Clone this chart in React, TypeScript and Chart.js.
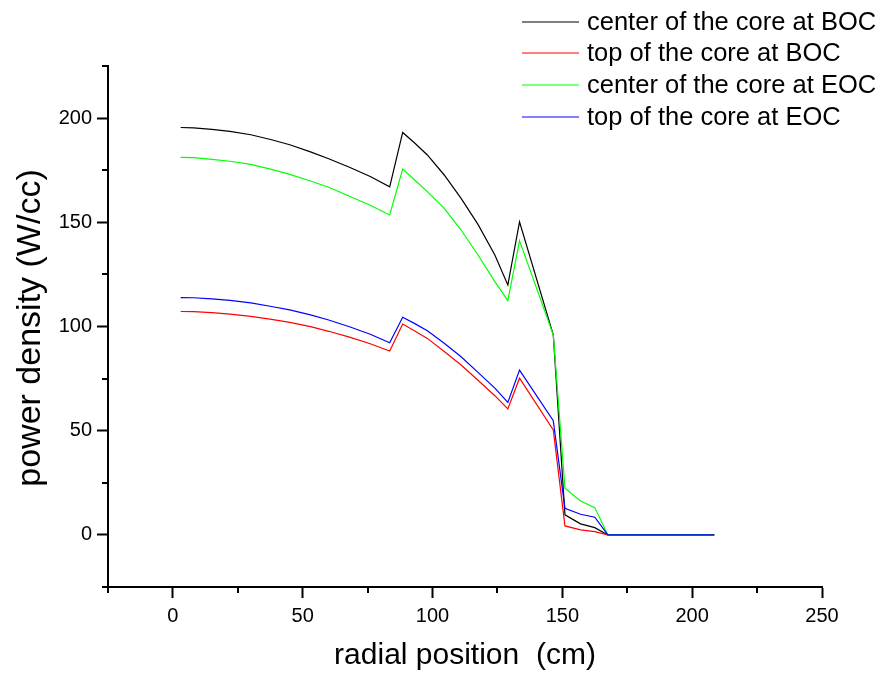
import React, { useEffect, useRef } from "react";
import { Chart, registerables } from "chart.js";

Chart.register(...registerables);

const radius = [3, 8, 15, 22, 30, 38, 45, 53, 60, 68, 76, 83.5, 88.5, 93, 98, 104.5, 111, 117.5, 124, 129, 133.5, 146.5, 151, 157, 162.5, 167.5, 208.5];

const centerBOC = [195.5, 195.3, 194.6, 193.6, 192, 189.6, 187.2, 183.8, 180.5, 176.4, 172, 167, 193.1, 188.2, 182.3, 172.7, 161.5, 149, 134.3, 119.9, 150.2, 96, 9.6, 5.3, 3.5, 0, 0];
const topBOC = [107.2, 107.1, 106.7, 105.9, 104.9, 103.4, 102, 99.9, 97.7, 94.9, 91.7, 88.2, 101.2, 98, 94.3, 88, 81.5, 74.2, 66.8, 60.4, 75.2, 50.4, 4.3, 2.4, 1.6, 0, 0];
const centerEOC = [181.2, 181, 180.2, 179.3, 177.8, 175.4, 173, 169.8, 166.8, 162.5, 158.2, 153.5, 175.5, 170.4, 164.7, 156.7, 146.3, 134.3, 121.5, 112.4, 141.2, 96, 22.4, 16.3, 13.1, 0, 0];
const topEOC = [113.9, 113.8, 113.3, 112.5, 111.3, 109.6, 108, 105.6, 103.1, 99.9, 96.3, 92.2, 104.4, 101.5, 98, 92, 85.5, 78, 70.4, 63.6, 79.1, 54.8, 12.8, 9.9, 8.5, 0, 0];

const seriesLabels = ["center of the core at BOC", "top of the core at BOC", "center of the core at EOC", "top of the core at EOC"];
const seriesColors = ["#000000", "#ff0000", "#00ff00", "#0000ff"];
const seriesValues = [centerBOC, topBOC, centerEOC, topEOC];

const xTitle = "radial position  (cm)";
const yTitle = "power density (W/cc)";

const FONT = "'Liberation Sans', Arial, sans-serif";

const decorPlugin = {
  id: "decor",
  afterDraw(chart: any) {
    const ctx = chart.ctx as CanvasRenderingContext2D;
    const xs = chart.scales.x;
    const ys = chart.scales.y;
    const area = chart.chartArea;
    ctx.save();
    // minor ticks
    ctx.strokeStyle = "#000";
    ctx.lineWidth = 2;
    for (let v = -25; v <= 250; v += 50) {
      const px = Math.round(xs.getPixelForValue(v));
      ctx.beginPath();
      ctx.moveTo(px, area.bottom);
      ctx.lineTo(px, area.bottom + 6);
      ctx.stroke();
    }
    for (let v = -25; v <= 225; v += 50) {
      const py = Math.round(ys.getPixelForValue(v));
      ctx.beginPath();
      ctx.moveTo(area.left, py);
      ctx.lineTo(area.left - 6, py);
      ctx.stroke();
    }
    // axis titles
    ctx.fillStyle = "#000";
    ctx.font = `30px ${FONT}`;
    ctx.textAlign = "center";
    ctx.textBaseline = "middle";
    ctx.fillText(xTitle, 465, 656);
    ctx.save();
    ctx.font = `34px ${FONT}`;
    ctx.translate(31, 328);
    ctx.rotate(-Math.PI / 2);
    ctx.fillText(yTitle, 0, 0);
    ctx.restore();
    // legend
    ctx.font = `25.5px ${FONT}`;
    ctx.textAlign = "left";
    const rowY = [22, 53, 85, 117];
    seriesLabels.forEach((lab, i) => {
      ctx.strokeStyle = seriesColors[i];
      ctx.lineWidth = 1.2;
      ctx.beginPath();
      ctx.moveTo(522, rowY[i]);
      ctx.lineTo(579, rowY[i]);
      ctx.stroke();
      ctx.fillStyle = "#000";
      ctx.fillText(lab, 587, rowY[i] + 1);
    });
    ctx.restore();
  },
};

export default function App() {
  const ref = useRef<HTMLCanvasElement>(null);
  useEffect(() => {
    document.body.style.margin = "0";
    const canvas = ref.current!;
    const order = [3, 2, 1, 0];
    const chart = new Chart(canvas, {
      type: "line",
      data: {
        datasets: seriesValues.map((vals, i) => ({
          label: seriesLabels[i],
          data: radius.map((r, j) => ({ x: r, y: vals[j] })),
          borderColor: seriesColors[i],
          backgroundColor: seriesColors[i],
          borderWidth: 1.2,
          pointRadius: 0,
          tension: 0,
          fill: false,
          order: order[i],
        })),
      },
      options: {
        animation: false,
        responsive: false,
        maintainAspectRatio: false,
        events: [],
        layout: { padding: { top: 66, right: 61, left: 0, bottom: 0 } },
        plugins: { legend: { display: false }, tooltip: { enabled: false } },
        scales: {
          x: {
            type: "linear",
            min: -25,
            max: 250,
            afterFit: (s: any) => { s.height = 88; },
            border: { display: true, color: "#000", width: 2 },
            grid: {
              drawOnChartArea: false,
              drawTicks: true,
              tickLength: 11,
              tickWidth: 2,
              tickColor: (c: any) => (c.tick && c.tick.value % 50 === 0 ? "#000" : "rgba(0,0,0,0)"),
            },
            ticks: {
              stepSize: 25,
              autoSkip: false,
              maxRotation: 0,
              padding: 6,
              color: "#000",
              font: { family: FONT, size: 20 },
              callback: (v: any) => (Number(v) % 50 === 0 ? String(v) : ""),
            },
          },
          y: {
            type: "linear",
            min: -25,
            max: 225,
            afterFit: (s: any) => { s.width = 108; },
            border: { display: true, color: "#000", width: 2 },
            grid: {
              drawOnChartArea: false,
              drawTicks: true,
              tickLength: 11,
              tickWidth: 2,
              tickColor: (c: any) => (c.tick && c.tick.value % 50 === 0 ? "#000" : "rgba(0,0,0,0)"),
            },
            ticks: {
              stepSize: 25,
              autoSkip: false,
              padding: 5,
              color: "#000",
              font: { family: FONT, size: 20 },
              callback: (v: any) => (Number(v) % 50 === 0 ? String(v) : ""),
            },
          },
        },
      },
      plugins: [decorPlugin],
    });
    return () => chart.destroy();
  }, []);
  return (
    <div style={{ position: "fixed", left: 0, top: 0, width: 883, height: 675, background: "#fff" }}>
      <canvas ref={ref} width={883} height={675} style={{ width: 883, height: 675 }} />
    </div>
  );
}
